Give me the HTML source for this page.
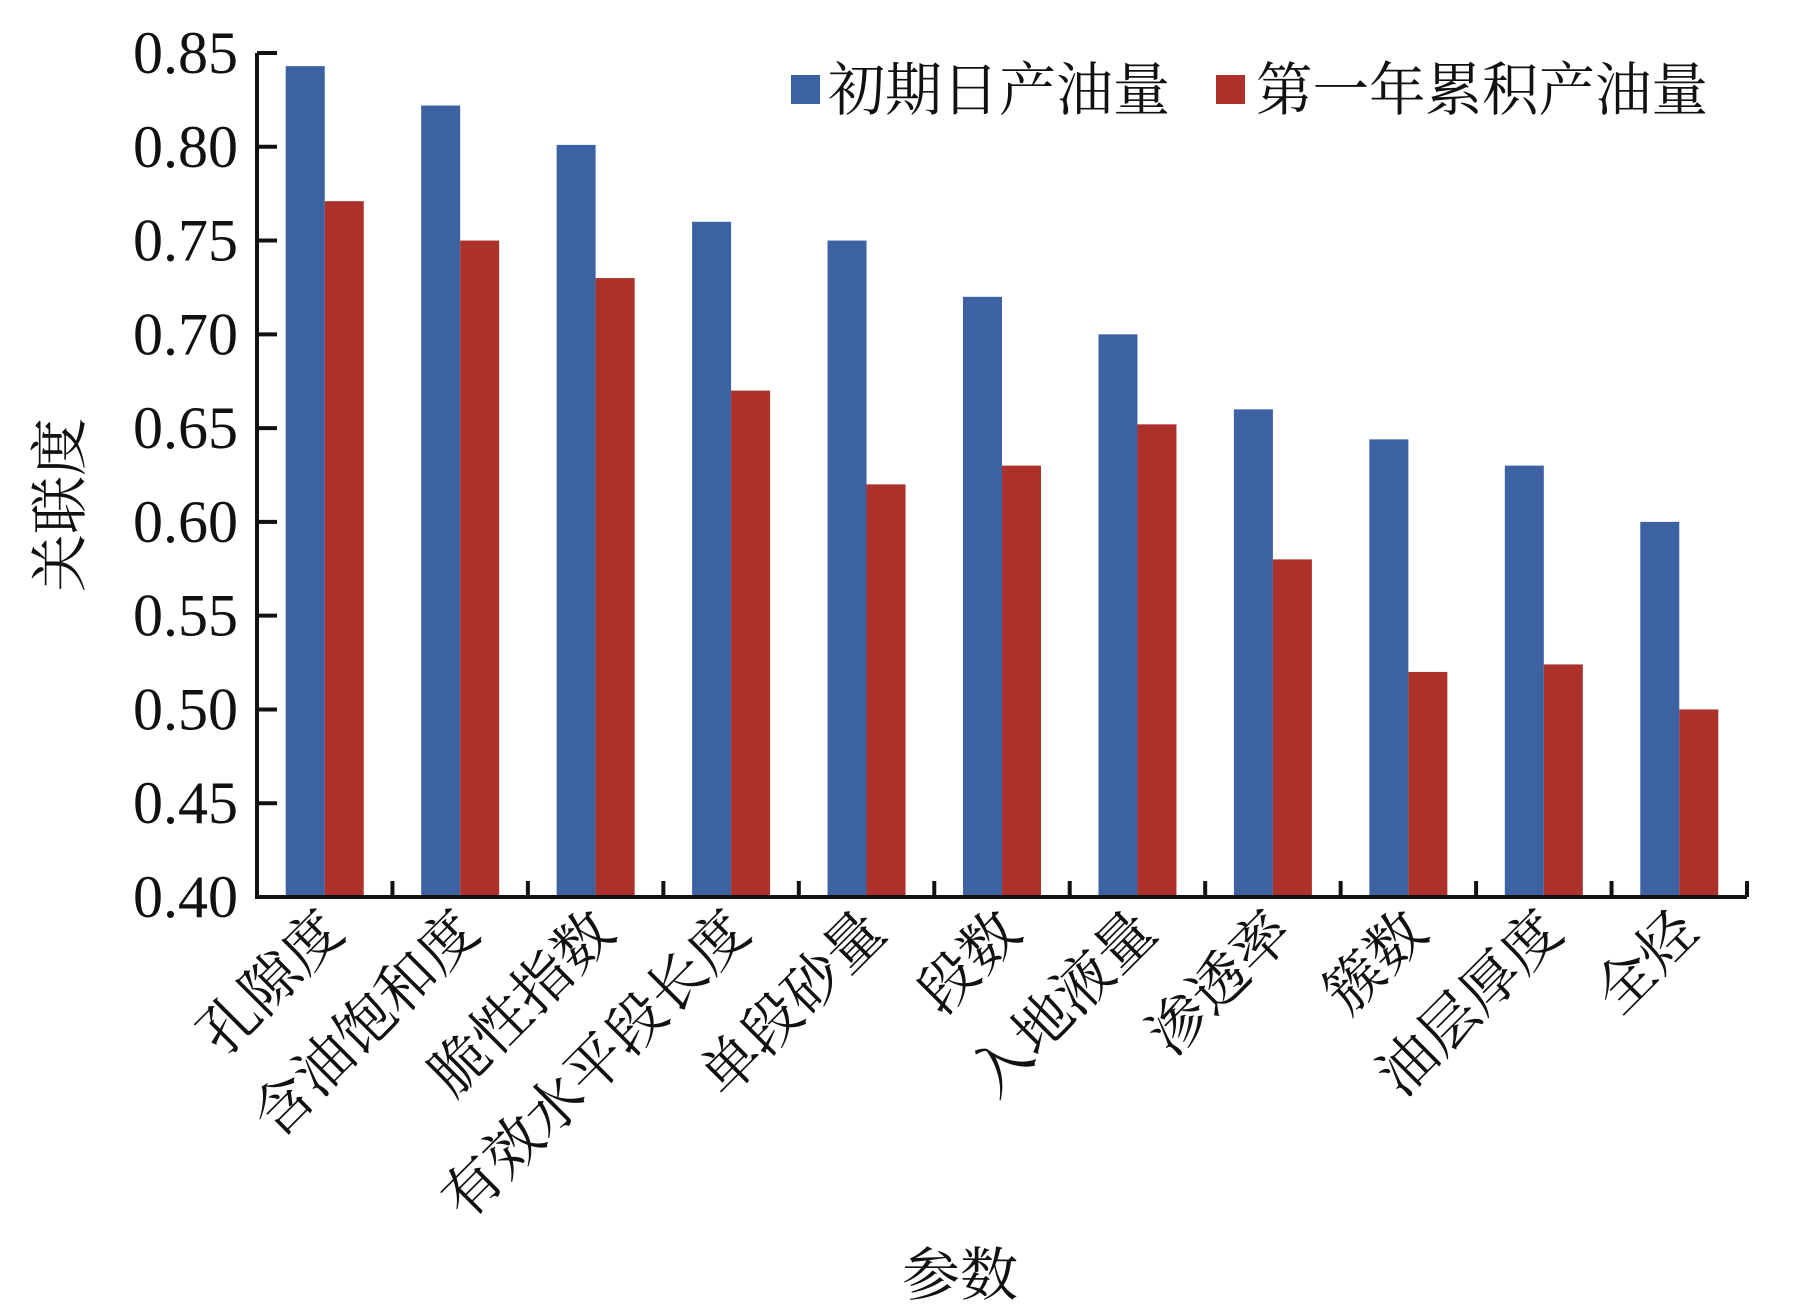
<!DOCTYPE html>
<html><head><meta charset="utf-8"><style>
body{margin:0;background:#fff}
text{font-family:"Liberation Serif","Noto Serif CJK SC","Noto Sans CJK SC",serif;fill:#111}
</style></head><body>
<svg width="1795" height="1307" viewBox="0 0 1795 1307">
<g id="plot"></g>
</svg>
<script>
const categories=["孔隙度","含油饱和度","脆性指数","有效水平段长度","单段砂量","段数","入地液量","渗透率","簇数","油层厚度","全烃"];
const seriesBlue=[0.843,0.822,0.801,0.760,0.750,0.720,0.700,0.660,0.644,0.630,0.600];
const seriesRed=[0.771,0.750,0.730,0.670,0.620,0.630,0.652,0.580,0.520,0.524,0.500];
const yTicks=["0.40","0.45","0.50","0.55","0.60","0.65","0.70","0.75","0.80","0.85"];
const seriesNames=["初期日产油量","第一年累积产油量"];
const NS="http://www.w3.org/2000/svg";
const g=document.getElementById('plot');
const X0=257,X1=1747,Y0=897,Y1=53,ymin=0.40,ymax=0.85;
const step=(X1-X0)/categories.length,bw=39;
function y(v){return Y0-(v-ymin)/(ymax-ymin)*(Y0-Y1);}
function xc(i){return X0+step*(i+0.5);}
function el(t,a,p){const e=document.createElementNS(NS,t);for(const k in a)e.setAttribute(k,a[k]);(p||g).appendChild(e);return e;}
categories.forEach((c,i)=>{
  let b=el('rect',{x:xc(i)-bw,y:y(seriesBlue[i]),width:bw,height:Y0-y(seriesBlue[i]),fill:'#3d62a1'});
  
  
  let r=el('rect',{x:xc(i),y:y(seriesRed[i]),width:bw,height:Y0-y(seriesRed[i]),fill:'#ab312a'});
  
  
  let t=el('text',{x:xc(i)+22,y:935,'text-anchor':'end','font-size':58,transform:`rotate(-45 ${xc(i)+22} 935)`});
  t.textContent=c;
  
  
});
// axes
let ax=el('path',{d:`M${X0} ${Y1}V${Y0}H${X1}`,stroke:'#111','stroke-width':4,fill:'none'});


yTicks.forEach(s=>{
  const v=parseFloat(s),yy=y(v);
  el('line',{x1:X0,x2:X0+20,y1:yy,y2:yy,stroke:'#111','stroke-width':4});
  let t=el('text',{x:238,y:yy+20,'text-anchor':'end','font-size':60});
  t.textContent=s;
  
  
});
for(let i=1;i<=categories.length;i++){const xx=X0+step*i;el('line',{x1:xx,x2:xx,y1:Y0,y2:Y0-16,stroke:'#111','stroke-width':4});}
// legend
let l1=el('rect',{x:791,y:75,width:29,height:29,fill:'#3d62a1'});

let lt1=el('text',{x:828,y:110,'font-size':58,textLength:342,lengthAdjust:'spacingAndGlyphs'});lt1.textContent=seriesNames[0];

let l2=el('rect',{x:1216,y:75,width:29,height:29,fill:'#ab312a'});

let lt2=el('text',{x:1256,y:110,'font-size':58,textLength:452,lengthAdjust:'spacingAndGlyphs'});lt2.textContent=seriesNames[1];

// titles
let yt=el('text',{x:80,y:505,'text-anchor':'middle','font-size':58,transform:'rotate(-90 80 505)'});yt.textContent='关联度';

let xt=el('text',{x:960,y:1295,'text-anchor':'middle','font-size':58});xt.textContent='参数';

</script>
</body></html>
